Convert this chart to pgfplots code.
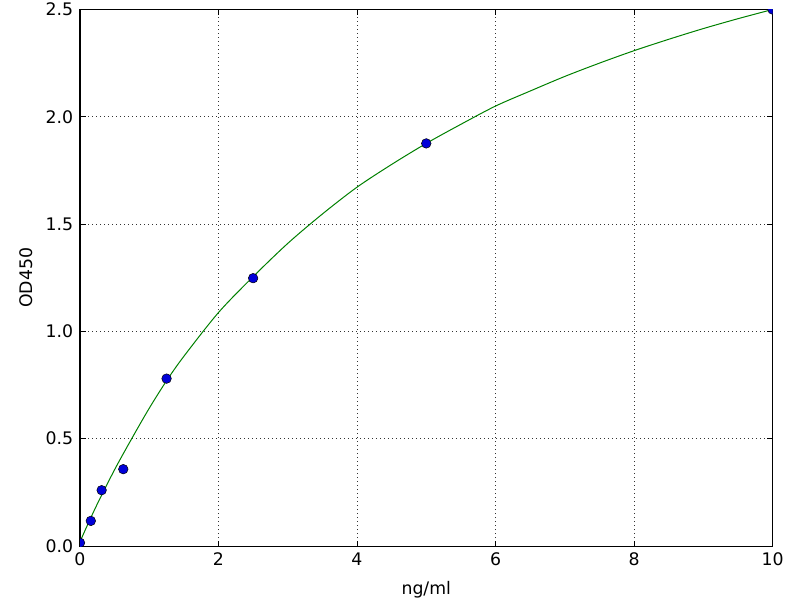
\documentclass[border=0pt]{standalone}
\usepackage{pgfplots}
\pgfplotsset{compat=1.18}
\usepackage{fontspec}
\setmainfont{DejaVu Sans}
\definecolor{mplgreen}{rgb}{0,0.5,0}
\definecolor{mplblue}{rgb}{0,0,0.85}
\begin{document}
\begin{tikzpicture}
\path[use as bounding box] (0,0) rectangle (800pt,600pt);
\begin{axis}[
  at={(80pt,54pt)}, anchor=south west,
  scale only axis, width=692.5pt, height=536.5pt,
  xmin=0, xmax=10, ymin=0, ymax=2.5,
  xtick={0,2,4,6,8,10},
  ytick={0,0.5,1,1.5,2,2.5},
  yticklabel style={/pgf/number format/fixed, /pgf/number format/fixed zerofill, /pgf/number format/precision=1, xshift=-3.3pt},
  xticklabel style={yshift=-3.3pt},
  /pgf/number format/assume math mode=true,
  ticklabel style={font=\fontsize{17.3}{20}\selectfont},
  label style={font=\fontsize{17.3}{20}\selectfont},
  tick align=inside, major tick length=5.5pt,
  tick style={black, line width=0.8pt},
  axis line style={line width=1pt},
  grid=major,
  major grid style={black!80, line width=0.6pt, dash pattern=on 1pt off 3pt},
  xlabel={ng/ml}, ylabel={OD450},
  xlabel style={at={(axis description cs:0.5,-0.0913)}, anchor=base},
  ylabel style={at={(axis description cs:-0.0679,0.5)}, anchor=base},
  clip marker paths=true,
]
\addplot[mplgreen, line width=1pt, smooth] coordinates {
(0,0.02) (0.1,0.092) (0.25,0.196) (0.5,0.356) (0.75,0.502) (1,0.642) (1.25,0.77)
(1.5,0.884) (2,1.088) (2.5,1.255) (3,1.41) (3.5,1.547) (4,1.672) (4.5,1.778)
(5,1.876) (5.5,1.965) (6,2.05) (6.5,2.12) (7,2.188) (7.5,2.25) (8,2.308)
(8.5,2.361) (9,2.411) (9.5,2.457) (10,2.5)
};
\addplot[only marks, mark=*, mark size=4.8pt, mark options={fill=mplblue, draw=black, line width=0.5pt}] coordinates {
(0,0.015) (0.156,0.117) (0.3125,0.26) (0.625,0.358) (1.25,0.78) (2.5,1.248) (5,1.876) (10,2.5)
};
\end{axis}
\end{tikzpicture}
\end{document}
